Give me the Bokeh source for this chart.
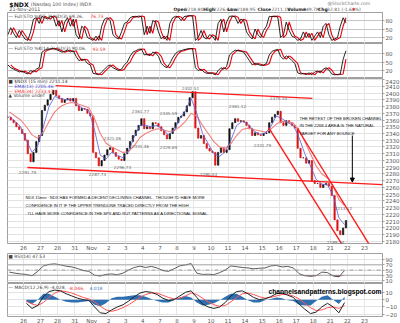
from bokeh.plotting import figure
from bokeh.layouts import column
from bokeh.models import Range1d, FixedTicker, Label, LinearAxis, Arrow, NormalHead, Span
from bokeh.embed import file_html
from bokeh.resources import INLINE

FONT = "DejaVu Sans"
AFONT = "Liberation Sans"

# ---------------- data ----------------
day_labels = ["26", "27", "28", "31", "Nov", "2", "3", "4", "7", "8", "9",
              "10", "11", "14", "15", "16", "17", "18", "21", "22", "23"]
first_day = -1          # data start (Oct 25)
price_per_day = 6
close = [
    2364, 2360, 2356, 2350, 2346, 2340,
    2330, 2310, 2298, 2312, 2328, 2337,
    2374, 2382, 2390, 2398, 2404, 2396,
    2392, 2386, 2390, 2392, 2388, 2392,
    2381, 2374, 2377, 2376, 2370, 2366,
    2312, 2304, 2292, 2300, 2308, 2316,
    2319, 2312, 2306, 2302, 2300, 2310,
    2318, 2328, 2337, 2345, 2352, 2362,
    2347, 2350, 2347, 2356, 2355, 2350,
    2344, 2338, 2332, 2340, 2348, 2356,
    2364, 2366, 2372, 2381, 2393, 2402,
    2348, 2333, 2337, 2325, 2318, 2314,
    2312, 2293, 2312, 2319, 2312, 2316,
    2347, 2356, 2362, 2358, 2359, 2357,
    2352, 2347, 2337, 2341, 2338, 2337,
    2340, 2341, 2356, 2364, 2368, 2373,
    2356, 2352, 2359, 2356, 2352, 2348,
    2318, 2304, 2304, 2296, 2300, 2270,
    2266, 2266, 2260, 2264, 2266, 2262,
    2248, 2212, 2196, 2190, 2200, 2211,
]
ema_per_day = 3
ema13 = [
    2366, 2358, 2350, 2330, 2312, 2322, 2350, 2380, 2395, 2392, 2390, 2390,
    2382, 2377, 2374, 2345, 2308, 2302, 2312, 2308, 2304, 2314, 2335, 2352,
    2352, 2350, 2352, 2346, 2338, 2344, 2362, 2374, 2392, 2370, 2340, 2325,
    2310, 2306, 2313, 2330, 2352, 2358, 2354, 2344, 2339, 2340, 2350, 2366,
    2362, 2356, 2352, 2334, 2310, 2292, 2272, 2265, 2264, 2248, 2215, 2205,
]
ema34 = [
    2372, 2366, 2360, 2350, 2338, 2333, 2342, 2358, 2372, 2380, 2384, 2386,
    2384, 2381, 2378, 2362, 2340, 2326, 2320, 2316, 2312, 2313, 2322, 2334,
    2340, 2344, 2347, 2346, 2343, 2344, 2350, 2358, 2370, 2366, 2352, 2340,
    2328, 2320, 2318, 2325, 2337, 2346, 2348, 2346, 2344, 2342, 2346, 2354,
    2358, 2357, 2355, 2345, 2328, 2310, 2292, 2280, 2274, 2262, 2242, 2233,
]
sto_per_day = 6
sto_fast = [
    30, 55, 35, 20, 45, 30,   15, 10, 40, 85, 90, 70,
    95, 90, 85, 96, 92, 60,   80, 40, 75, 90, 60, 85,
    30, 15, 60, 50, 20, 15,   10, 25, 10, 60, 85, 90,
    80, 30, 20, 15, 40, 70,   75, 90, 95, 92, 96, 94,
    30, 60, 35, 80, 75, 40,   15, 25, 10, 70, 90, 95,
    92, 80, 94, 96, 98, 95,   10, 20, 45, 20, 15, 30,
    25, 10, 70, 85, 40, 75,   95, 96, 92, 70, 85, 80,
    40, 25, 15, 50, 30, 20,   45, 60, 95, 94, 96, 92,
    20, 30, 75, 45, 25, 20,   10, 15, 40, 20, 35, 10,
    25, 40, 20, 60, 70, 30,   10, 15, 20, 60, 90, 72,
]
sto_slow = [
    40, 30, 25, 20, 15, 18,   12, 8, 20, 15, 25, 30,
    85, 92, 95, 97, 98, 94,   90, 85, 88, 92, 86, 90,
    70, 55, 60, 58, 45, 40,   10, 8, 5, 15, 25, 35,
    40, 30, 25, 20, 25, 40,   50, 70, 85, 90, 95, 96,
    75, 78, 72, 85, 82, 70,   45, 35, 30, 45, 65, 80,
    88, 90, 94, 96, 98, 97,   30, 20, 25, 15, 10, 12,
    10, 5, 20, 30, 25, 35,    75, 85, 92, 90, 88, 85,
    70, 55, 40, 45, 42, 38,   40, 45, 75, 88, 92, 95,
    70, 60, 72, 65, 55, 45,   12, 8, 10, 6, 12, 5,
    15, 18, 12, 25, 30, 22,   8, 5, 6, 8, 60, 90,
]
ind_per_day = 3
rsi = [
    42, 38, 35, 33, 28, 45, 66, 72, 74, 70, 65, 62,
    56, 48, 45, 30, 27, 33, 35, 32, 38, 50, 60, 65,
    60, 64, 58, 48, 45, 55, 66, 70, 75, 38, 33, 34,
    32, 40, 50, 66, 63, 60, 58, 55, 57, 58, 66, 68,
    62, 64, 58, 36, 28, 26, 28, 42, 40, 27, 24, 48,
]
macd_first_day = 0
macd = [
    -5, -12, -8, 4, 11, 13, 12, 8, 5, 2, 0, -1,
    -10, -18, -19, -14, -10, -7, -2, 4, 9, 11, 10, 7,
    2, -1, 0, 5, 10, 12, 3, -6, -10, -12, -10, -4,
    5, 11, 12, 8, 3, 0, 1, 4, 8, 9, 6, 3,
    -6, -13, -19, -17, -10, -5, -10, -18, -4,
]
signal = [
    -2, -6, -8, -4, 3, 9, 12, 11, 9, 6, 3, 1,
    -3, -9, -14, -16, -14, -11, -7, -2, 3, 7, 9, 9,
    6, 3, 1, 2, 5, 9, 7, 2, -3, -7, -9, -8,
    -3, 3, 8, 9, 7, 4, 2, 3, 5, 7, 7, 5,
    1, -5, -11, -15, -14, -11, -10, -12, -8,
]
hist = [
    -3, -6, 0, 8, 8, 4, 0, -3, -4, -4, -3, -2,
    -7, -9, -5, 2, 4, 4, 5, 6, 6, 4, 1, -2,
    -4, -4, -1, 3, 5, 3, -4, -8, -7, -5, -1, 4,
    8, 8, 4, -1, -4, -4, -1, 1, 3, 2, -1, -2,
    -7, -8, -8, -2, 4, 6, 0, -6, 4,
]

# hand drawn trendlines (day, price)
upper_chan_days, upper_chan_prices = [1.88, 16.95], [2411, 2392]
lower_chan_days, lower_chan_prices = [0.23, 21.06], [2289.6, 2264.3]
down_a_days, down_a_prices = [14.37, 19.35], [2349, 2149]
down_b_days, down_b_prices = [16.07, 20.76], [2347.4, 2156]

price_note_texts = ["2291.79", "2402.51", "2361.77", "2345.59", "2321.06", "2331.46",
                    "2329.69", "2296.73", "2287.74", "2361.12", "2375.10", "2331.79",
                    "2290.53", "2213.12", "2189.34"]

# ---------------- layout helpers ----------------
FW = 375
LEFT = 7
xr = Range1d(-0.94, 21.06)
day_ticks = list(range(len(day_labels)))


def make_panel(frame_h, y0, y1, yticks, top=0):
    p = figure(frame_width=FW, frame_height=frame_h, x_range=xr, y_range=Range1d(y0, y1),
               output_backend="svg", toolbar_location=None, x_axis_location=None,
               y_axis_location="right", min_border_left=LEFT, min_border_right=18,
               min_border_top=top, min_border_bottom=0,
               background_fill_color="white", border_fill_color="white",
               outline_line_color="#a0a0a0")
    t = FixedTicker(ticks=yticks)
    p.yaxis.ticker = t
    p.ygrid.ticker = t
    p.ygrid.grid_line_color = "#e2e2e2"
    p.xgrid.ticker = FixedTicker(ticks=day_ticks)
    p.xgrid.grid_line_color = "#e6e6e6"
    ax = p.yaxis[0]
    ax.major_label_text_font = FONT
    ax.major_label_text_font_size = "5.5px"
    ax.major_label_text_color = "#555555"
    ax.major_tick_in = 0
    ax.major_tick_out = 2
    ax.major_tick_line_color = "#a0a0a0"
    ax.minor_tick_line_color = None
    ax.axis_line_color = "#a0a0a0"
    ax.major_label_standoff = 1
    return p


def add_xaxis(p):
    ax = LinearAxis(ticker=FixedTicker(ticks=day_ticks),
                    major_label_overrides={i: s for i, s in enumerate(day_labels)})
    ax.major_label_text_font = FONT
    ax.major_label_text_font_size = "5.5px"
    ax.major_label_text_color = "#555555"
    ax.major_tick_in = 0
    ax.major_tick_out = 0
    ax.minor_tick_line_color = None
    ax.axis_line_color = None
    ax.major_label_standoff = 1
    p.add_layout(ax, "below")


def put(p, geom, cx, cy, text, size="5px", color="#222222", style="normal",
        align="left", baseline="middle", font=FONT):
    top, bot, y0, y1 = geom
    x = xr.start + (cx - LEFT) * (xr.end - xr.start) / FW
    y = y0 + (bot - cy) * (y1 - y0) / (bot - top)
    p.add_layout(Label(x=x, y=y, text=text, text_font=font, text_font_size=size,
                       text_color=color, text_font_style=style, text_align=align,
                       text_baseline=baseline))


def xs_for(n, per_day, start):
    return [start + (i + 0.5) / per_day for i in range(n)]


# ---------------- header strip ----------------
ph = figure(width=400, height=12, x_range=Range1d(0, 400), y_range=Range1d(12, 0),
            output_backend="svg", toolbar_location=None, x_axis_location=None,
            y_axis_location=None, min_border=0, outline_line_color=None,
            background_fill_color="white", border_fill_color="white")
ph.grid.visible = False


def hput(cx, cy, text, size="5px", color="#222222", style="normal", align="left"):
    ph.add_layout(Label(x=cx, y=cy, text=text, text_font=FONT, text_font_size=size,
                        text_color=color, text_font_style=style, text_align=align,
                        text_baseline="middle"))


hput(2, 3.5, "$NDX", size="6.2px", color="#111111", style="bold")
hput(25, 3.6, "(Nasdaq 100 Index) INDX", size="4.8px", color="#555555")
hput(2, 9.2, "21-Nov-2011", size="4.8px", color="#555555")
hput(389, 3, "@StockCharts.com", size="4.5px", color="#777777", align="right")
hdr = [(178, "Open", True), (190, "2218.80", False), (210, "High", True), (221, "2226.64", False),
       (236, "Low", True), (246, "2188.95", False), (268, "Close", True), (283, "2211.14", False),
       (300, "Volume", True), (317, "849.7M", False), (333, "Chg", True), (341, "-32.81 (-1.60%)", False)]
for cx, t, b in hdr:
    hput(cx, 8.8, t, size="4.5px", color="#222222" if b else "#555555",
         style="bold" if b else "normal")
hput(370, 8.8, "\u25be", size="5px", color="#dd0000")

# ---------------- STO panels ----------------
g1 = (12, 43, -1, 108.5)
p1 = make_panel(31, g1[2], g1[3], [20, 50, 80])
p1.ygrid.grid_line_color = "#c4c4c4"
xs_sto = xs_for(len(sto_fast), sto_per_day, first_day)
p1.line(xs_sto[1:], sto_fast[:-1], line_color="#e8000b", line_width=1.1)
p1.line(xs_sto, sto_fast, line_color="#111111", line_width=0.9)
put(p1, g1, 8, 15.5, "\u2014 Full STO %K(5,3) %D(3) 69.26,", size="4.5px", color="#444444")
put(p1, g1, 90, 15.5, "76.73", size="4.5px", color="#ee3333")

g2 = (43, 78, -8, 115.5)
p2 = make_panel(35, g2[2], g2[3], [20, 50, 80])
p2.ygrid.grid_line_color = "#c4c4c4"
p2.line(xs_sto[1:], sto_slow[:-1], line_color="#e8000b", line_width=1.1)
p2.line(xs_sto, sto_slow, line_color="#111111", line_width=0.9)
put(p2, g2, 8, 48, "\u2014 Full STO %K(14,3) %D(3) 90.06,", size="4.5px", color="#444444")
put(p2, g2, 92, 48, "93.59", size="4.5px", color="#ee3333")

# ---------------- main price panel ----------------
gm = (78, 243, 2177, 2421.5)
pm = make_panel(165, gm[2], gm[3], list(range(2180, 2421, 10)))
add_xaxis(pm)
xs_p = xs_for(len(close), price_per_day, first_day)
opens = [close[0]] + close[:-1]
tops = [max(o, c) for o, c in zip(opens, close)]
bots = [min(o, c) for o, c in zip(opens, close)]
cols = ["#111111" if c >= o else "#dd1111" for o, c in zip(opens, close)]
pm.vbar(x=xs_p, top=tops, bottom=bots, width=0.45 / price_per_day,
        fill_color=cols, line_color=cols, line_width=0.7)
xs_e = xs_for(len(ema13), ema_per_day, first_day)
pm.line(xs_e, ema34, line_color="#f08080", line_width=1.1)
pm.line(xs_e, ema13, line_color="#5a5ad8", line_width=0.8)

for dx, py in [(upper_chan_days, upper_chan_prices), (lower_chan_days, lower_chan_prices),
               (down_a_days, down_a_prices), (down_b_days, down_b_prices)]:
    pm.line(dx, py, line_color="#ff1a1a", line_width=1.4)

pm.add_layout(Arrow(end=NormalHead(size=4, fill_color="black", line_color="black"),
                    x_start=19.29, y_start=2337, x_end=19.29, y_end=2268,
                    line_color="black", line_width=1))

note_pos = [(27, 171), (190, 87), (140, 110), (168, 112), (112, 137), (140, 145),
            (168, 146), (122, 166), (97, 173), (237, 105), (278, 97), (262, 144),
            (208, 173), (343, 207), (335, 241)]
for (cx, cy), t in zip(note_pos, price_note_texts):
    put(pm, gm, cx, cy, t, size="4.2px", color="#666666", align="center")

put(pm, gm, 8, 81, "\u25a0 $NDX (15 min) 2211.14", size="4.5px", color="#333333")
put(pm, gm, 8, 85.5, "\u2014 EMA(13) 2205.46", size="4.5px", color="#4444cc")
put(pm, gm, 8, 90.5, "\u2014 EMA(34) 2233.43", size="4.5px", color="#ee3333")
put(pm, gm, 8, 95, "\u25b2 Volume undef", size="4.5px", color="#444444")

for i, t in enumerate(["THE RETEST OF THE BROKEN CHANNEL",
                       "IN THE 2268.4 AREA IS THE NATURAL",
                       "TARGET FOR ANY BOUNCE"]):
    put(pm, gm, 299, 117.5 + 7.5 * i, t, size="4.2px", color="#111111", font=AFONT)
for i, t in enumerate(["NDX 15min : NDX HAS FORMED A DECENT DECLINING CHANNEL , THOUGH I'D HAVE MORE",
                       "CONFIDENCE IN IT IF THE UPPER TRENDLINE TRACED DIRECTLY FROM THE HIGH",
                       ". I'LL HAVE MORE CONFIDENCE IN THE SPX AND RUT PATTERNS AS A DIRECTIONAL SIGNAL."]):
    put(pm, gm, 25, 197 + 8 * i, t, size="4.1px", color="#111111", font=AFONT)

# ---------------- RSI panel ----------------
gr = (251, 281, -2, 114)
pr = make_panel(30, gr[2], gr[3], [10, 30, 50, 70, 90])
xs_r = xs_for(len(rsi), ind_per_day, first_day)
pr.varea(x=xs_r, y1=[30] * len(rsi), y2=[min(v, 30) for v in rsi], fill_color="#8c4a4a")
for lv, dash, colr in [(70, "solid", "#9a9a9a"), (30, "solid", "#9a9a9a"), (50, "4 2 1 2", "#888888")]:
    pr.add_layout(Span(location=lv, dimension="width", line_color=colr, line_width=0.8, line_dash=dash))
pr.line(xs_r, rsi, line_color="#333333", line_width=0.8)
put(pr, gr, 8, 254, "\u25a0 RSI(14) 47.53", size="4.5px", color="#444444")

# ---------------- MACD panel ----------------
gc = (281, 314, -23, 22)
pc = make_panel(33, gc[2], gc[3], [-20, -10, 0, 10])
add_xaxis(pc)
xs_m = xs_for(len(macd), ind_per_day, macd_first_day)
pc.varea(x=xs_m, y1=[0] * len(hist), y2=hist, fill_color="#2d6fb0")
pc.line(xs_m, signal, line_color="#ff5555", line_width=1.0)
pc.line(xs_m, macd, line_color="#222222", line_width=1.0)
put(pc, gc, 8, 285, "\u2014 MACD(12,26,9) -4.028,", size="4.5px", color="#444444")
put(pc, gc, 68, 285, "-8.046,", size="4.5px", color="#ee3333")
put(pc, gc, 89, 285, "4.018", size="4.5px", color="#3a6fc0")
put(pc, gc, 268, 288.5, "channelsandpatterns.blogspot.com", size="6.7px", color="#000000",
    style="bold", font=AFONT)

layout = column(ph, p1, p2, pm, pr, pc, spacing=0)
open("out.html", "w").write(file_html(layout, INLINE))
